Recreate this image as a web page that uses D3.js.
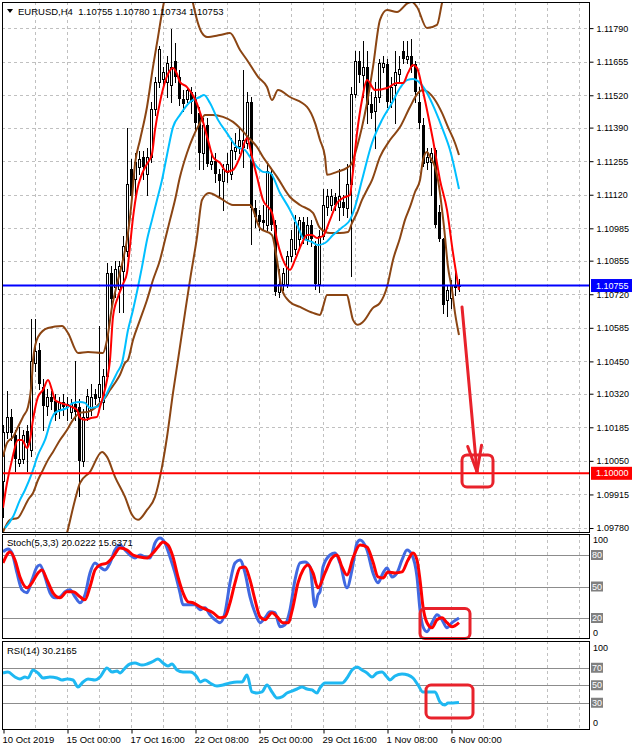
<!DOCTYPE html>
<html><head><meta charset="utf-8">
<script src="https://cdn.jsdelivr.net/npm/d3@7/dist/d3.min.js"></script>
<style>
html,body{margin:0;padding:0;background:#fff;}
svg{display:block;font-family:"Liberation Sans",Arial,sans-serif;}
</style></head><body>
<svg id="chart" width="635" height="750"></svg>
<script>
// ---------------- DATA ----------------
const symbol = "EURUSD,H4";
const open = [1.09969,1.10166,1.10228,1.10154,1.10043,1.10059,1.10170,1.10092,1.10442,1.10495,
1.10347,1.10269,1.10306,1.10290,1.10257,1.10285,1.10265,1.10248,1.10277,1.10265,
1.10051,1.10228,1.10257,1.10318,1.10306,1.10285,1.10392,1.10804,1.10750,1.10742,
1.10812,1.10895,1.11224,1.11183,1.11232,1.11273,1.11203,1.11273,1.11463,1.11574,
1.11586,1.11574,1.11561,1.11656,1.11594,1.11504,1.11504,1.11533,1.11504,1.11450,
1.11286,1.11401,1.11244,1.11257,1.11203,1.11175,1.11212,1.11203,1.11294,1.11318,
1.11314,1.11327,1.11491,1.11068,1.11039,1.11018,1.10998,1.11203,1.10998,1.10730,
1.10763,1.10763,1.10874,1.10903,1.10944,1.11010,1.10944,1.10998,1.10915,1.10763,
1.10956,1.11072,1.11080,1.11109,1.11072,1.11092,1.11068,1.11162,1.11524,1.11656,
1.11602,1.11635,1.11483,1.11458,1.11512,1.11635,1.11644,1.11491,1.11561,1.11607,
1.11697,1.11664,1.11677,1.11644,1.11491,1.11401,1.11253,1.11253,1.11298,1.11051,
1.10944,1.10697,1.10705,1.10757,1.10755];
const high = [1.10195,1.10331,1.10257,1.10174,1.10187,1.10174,1.10195,1.10619,1.10619,1.10524,
1.10380,1.10339,1.10331,1.10318,1.10306,1.10318,1.10306,1.10298,1.10450,1.10298,
1.10257,1.10339,1.10360,1.10339,1.10594,1.10421,1.10845,1.10833,1.10853,1.10853,
1.10956,1.11388,1.11265,1.11286,1.11294,1.11294,1.11306,1.11491,1.11594,1.11718,
1.11635,1.11677,1.11788,1.11730,1.11623,1.11541,1.11553,1.11553,1.11533,1.11471,
1.11430,1.11430,1.11286,1.11286,1.11224,1.11244,1.11286,1.11347,1.11368,1.11388,
1.11623,1.11533,1.11512,1.11100,1.11059,1.11080,1.11244,1.11224,1.11018,1.10820,
1.10825,1.10895,1.10977,1.11039,1.11030,1.11030,1.11030,1.11018,1.10936,1.10977,
1.11142,1.11142,1.11142,1.11129,1.11224,1.11121,1.11244,1.11553,1.11697,1.11697,
1.11738,1.11697,1.11533,1.11574,1.11664,1.11677,1.11664,1.11594,1.11697,1.11677,
1.11738,1.11738,1.11747,1.11656,1.11553,1.11430,1.11306,1.11306,1.11306,1.11080,
1.10946,1.10757,1.10777,1.10826,1.10780];
const low = [1.09824,1.10141,1.10133,1.10010,1.10030,1.10043,1.10010,1.10071,1.10413,1.10339,
1.10174,1.10236,1.10257,1.10215,1.10224,1.10236,1.10215,1.10224,1.10215,1.09907,
1.10030,1.10215,1.10236,1.10277,1.10290,1.10257,1.10380,1.10668,1.10709,1.10648,
1.10648,1.10874,1.11080,1.11113,1.11203,1.11183,1.11121,1.11253,1.11442,1.11553,
1.11565,1.11512,1.11491,1.11574,1.11479,1.11458,1.11491,1.11450,1.11376,1.11224,
1.11224,1.11236,1.11224,1.11170,1.11109,1.11059,1.11170,1.11183,1.11265,1.11286,
1.11232,1.11306,1.10923,1.10989,1.10977,1.10977,1.10977,1.10977,1.10718,1.10709,
1.10738,1.10750,1.10853,1.10882,1.10915,1.10927,1.10923,1.10915,1.10742,1.10730,
1.10944,1.11039,1.11059,1.11059,1.11018,1.11039,1.11030,1.10792,1.11512,1.11574,
1.11512,1.11409,1.11430,1.11306,1.11491,1.11615,1.11471,1.11471,1.11409,1.11574,
1.11648,1.11648,1.11615,1.11491,1.11388,1.11236,1.11224,1.11121,1.10989,1.10936,
1.10645,1.10633,1.10665,1.10717,1.10734];
const close = [1.10166,1.10228,1.10162,1.10059,1.10059,1.10154,1.10121,1.10450,1.10491,1.10360,
1.10269,1.10306,1.10285,1.10236,1.10285,1.10265,1.10277,1.10277,1.10248,1.10051,
1.10228,1.10310,1.10306,1.10298,1.10360,1.10392,1.10804,1.10701,1.10820,1.10833,
1.10915,1.11162,1.11113,1.11253,1.11265,1.11232,1.11273,1.11463,1.11574,1.11705,
1.11615,1.11648,1.11635,1.11594,1.11504,1.11483,1.11541,1.11491,1.11409,1.11286,
1.11401,1.11244,1.11257,1.11203,1.11175,1.11224,1.11244,1.11298,1.11314,1.11339,
1.11339,1.11491,1.11068,1.11030,1.11010,1.11006,1.11216,1.10998,1.10730,1.10763,
1.10804,1.10874,1.10944,1.11010,1.11018,1.10944,1.10998,1.10944,1.10763,1.10956,
1.11080,1.11113,1.11113,1.11080,1.11113,1.11068,1.11162,1.11524,1.11656,1.11602,
1.11635,1.11479,1.11450,1.11512,1.11648,1.11648,1.11491,1.11553,1.11615,1.11627,
1.11664,1.11677,1.11635,1.11533,1.11409,1.11244,1.11273,1.11286,1.10998,1.10944,
1.10677,1.10737,1.10757,1.10745,1.10753];

// Bollinger bands (bar index, price)
const bbMidIdx = [0,1.75,3.75,5,6.25,7.5,8.75,10,11.25,12.5,14.25,16,17.5,19.25,21.25,23,24.25,25.5,26.75,28,29.25,30.5,31.25,32.5,34.25,36,37.5,39.25,40.5,41.75,43,44.25,46,47.5,49.25,50.5,52.5,55,57.5,59.25,61.25,63.5,65,66.75,68.5,71.75,74.25,77.5,79.25,81.75,84.25,86.25,87.25,88.5,89.75,91,92.25,94.25,96.75,99.25,101.75,103.75,105,106.25,108,109.75,111.25,113,114];
const bbMid = [1.09764,1.09813,1.09821,1.09853,1.09893,1.09921,1.09973,1.10014,1.10054,1.10086,1.10134,1.10174,1.10215,1.10243,1.10247,1.10263,1.10283,1.10303,1.10335,1.10363,1.10396,1.10444,1.10456,1.10536,1.10617,1.10697,1.10777,1.10858,1.10938,1.11019,1.11099,1.11192,1.11288,1.11352,1.11409,1.11441,1.11441,1.11433,1.11413,1.11388,1.11352,1.11312,1.11272,1.11232,1.11192,1.11111,1.11079,1.11047,1.10986,1.10966,1.10966,1.10970,1.11006,1.11047,1.11099,1.11139,1.11179,1.11272,1.11340,1.11392,1.11473,1.11529,1.11541,1.11533,1.11501,1.11449,1.11392,1.11328,1.11280];
const bbUpIdx = [0,1,2.5,3.75,5,6.25,7.25,7.5,8.75,11.25,14.75,16.25,18.75,21.25,25,26,27.25,28.75,30,31.25,32.25,33,34.25,36,37.5,38.75,40,41.25,43,44.75,46.25,47.5,49.75,51,54.25,56.75,59.25,61,63.75,66,67.25,68.75,71.75,76,78,79.25,80.5,81,83.5,86,87.25,88.5,89.75,91,92.5,94.25,96,98.5,101.25,102.25,103.5,106,108.5,109.75,111.75,114];
const bbUp = [1.10066,1.10122,1.10146,1.10186,1.10227,1.10267,1.10388,1.10456,1.10548,1.10584,1.10592,1.10564,1.10484,1.10488,1.10484,1.10536,1.10669,1.10777,1.10858,1.10966,1.11107,1.11244,1.11340,1.11473,1.11634,1.11754,1.11875,1.11963,1.12044,1.12064,1.12004,1.11891,1.11770,1.11754,1.11762,1.11770,1.11702,1.11662,1.11594,1.11553,1.11501,1.11541,1.11513,1.11473,1.11409,1.11340,1.11272,1.11200,1.11212,1.11228,1.11248,1.11312,1.11392,1.11489,1.11634,1.11823,1.11863,1.11855,1.11891,1.11895,1.11875,1.11790,1.11803,1.11891,1.12024,1.12084];
const bbLowIdx = [0,4.25,7.5,11.25,14.25,16,18,19.25,21.75,24.75,26,28,30.5,32.25,33.75,36,38,39.75,41,42.5,43.75,45.5,46.75,48.5,49.75,51.5,54.25,57.5,61.75,64.25,67.25,68.5,69.75,71.75,74.25,77.5,79.25,80,81,86,86.75,87.5,88.75,90,92.5,94.25,96,97.5,99.25,100.5,101.75,103,104.25,105,106,106.75,108,108.75,110.25,111.25,112.25,113,114];
const bbLow = [1.09463,1.09431,1.09387,1.09523,1.09672,1.09760,1.09893,1.09961,1.10006,1.10086,1.10066,1.09986,1.09905,1.09833,1.09813,1.09853,1.09905,1.10026,1.10146,1.10323,1.10456,1.10645,1.10777,1.10950,1.11099,1.11127,1.11107,1.11079,1.11079,1.10986,1.10958,1.10858,1.10737,1.10689,1.10669,1.10645,1.10637,1.10669,1.10717,1.10717,1.10669,1.10617,1.10597,1.10609,1.10665,1.10685,1.10749,1.10858,1.10946,1.11019,1.11071,1.11131,1.11179,1.11260,1.11292,1.11272,1.11232,1.11179,1.10991,1.10830,1.10737,1.10645,1.10556];

// Fast MA (red) and slow MA (cyan)
const maFastIdx = [0,1,2.25,3.75,4.75,6,6.75,7.5,8.75,10,11.25,12.25,13,13.75,16,17.25,18.5,19.25,20.5,22.25,23.5,24.25,25,26,26.75,27.5,28.75,30,31,31.75,32.5,33.5,34.75,36,37.25,38,39.25,40,41.25,42.5,43.5,44.25,46,48,50,51.25,52.5,54.25,56,57.5,59.25,61,62.25,63.5,65,67.25,68.5,70,71.75,73,74.75,76,77.25,78.5,80,81.75,83.5,85,86.75,87.25,88.5,89.75,91,93,96,98.5,100,101.25,102.5,103.5,104.75,106,107.5,109.25,111,112.5,114];
const maFast = [1.09861,1.09961,1.10054,1.10134,1.10134,1.10102,1.10134,1.10215,1.10307,1.10335,1.10375,1.10335,1.10295,1.10287,1.10275,1.10267,1.10255,1.10223,1.10215,1.10223,1.10227,1.10267,1.10307,1.10375,1.10456,1.10629,1.10709,1.10761,1.10806,1.10914,1.11027,1.11135,1.11204,1.11244,1.11284,1.11380,1.11493,1.11545,1.11606,1.11630,1.11606,1.11573,1.11553,1.11505,1.11413,1.11340,1.11272,1.11248,1.11212,1.11220,1.11272,1.11348,1.11272,1.11192,1.11099,1.11047,1.10938,1.10858,1.10818,1.10858,1.10926,1.10958,1.10958,1.10946,1.10954,1.11019,1.11087,1.11107,1.11119,1.11179,1.11368,1.11501,1.11581,1.11541,1.11549,1.11569,1.11569,1.11610,1.11642,1.11630,1.11553,1.11461,1.11340,1.11179,1.11059,1.10886,1.10737];
const maSlowIdx = [0.5,2.5,4.25,5.5,7.25,8.75,10.5,12.25,13,16,17.5,19.25,20.5,21.75,23.5,24.75,26,27.25,28.5,29.75,31.25,32.5,33.75,34.75,36,37.25,38.5,39.75,41,42.5,44.25,46.75,49.25,50.25,51.75,53.75,56,58.5,60.5,61.75,63.5,65,66.75,69.25,71.75,73.75,75,77.25,78.75,80.5,82.5,85,86.75,88,89.75,92.25,94.75,97.25,99.25,101,102.5,104.25,106,108,110,111.75,114];
const maSlow = [1.09780,1.09825,1.09893,1.09933,1.10002,1.10074,1.10134,1.10223,1.10243,1.10263,1.10283,1.10287,1.10283,1.10263,1.10267,1.10287,1.10323,1.10363,1.10404,1.10444,1.10576,1.10657,1.10749,1.10830,1.10938,1.11019,1.11099,1.11179,1.11280,1.11392,1.11441,1.11493,1.11513,1.11521,1.11489,1.11421,1.11368,1.11312,1.11300,1.11272,1.11232,1.11212,1.11208,1.11127,1.11059,1.10991,1.10946,1.10930,1.10918,1.10926,1.10958,1.10991,1.11019,1.11071,1.11179,1.11328,1.11421,1.11489,1.11549,1.11581,1.11585,1.11569,1.11529,1.11461,1.11380,1.11300,1.11143];

// Stochastic (5,3,3)
const stochKIdx = [0,1.25,2.25,3.5,4.75,6,7.25,8.5,9.25,10.5,11.75,13,14.25,15.5,16.75,18,19.25,20.5,21.75,23,24.25,25.5,26.75,28,29.25,30.5,31.75,33,34.25,35.5,36.75,38,39.25,40.5,41.75,43,44.25,45,46.75,48,49.25,50.5,51.75,53,54.25,55.5,56.75,58,59.25,60.5,61.75,63,64.25,65.5,66.75,68,69.25,70.5,71.75,73,74.25,75.5,76.75,78,78.75,79.25,80,81.75,83,84.25,86,87.25,88.5,89.25,91,92.5,93.75,95,96,97.25,98.5,99.75,101,102.25,103.5,104.25,105,106,107.25,108.5,109.75,111,112.25,114];
const stochK = [82.9,85.7,81.9,62.9,46.8,44.0,56.3,68.6,70.5,59.1,44.0,39.2,40.2,44.9,46.8,40.2,34.5,42.1,62.9,72.4,68.6,65.8,72.4,84.8,89.5,84.8,80.0,77.2,80.0,78.1,77.2,91.4,96.2,91.4,78.1,62.9,44.0,32.6,32.6,32.6,27.8,29.7,23.1,18.3,15.5,25.0,53.5,72.4,75.3,62.9,40.2,25.0,15.5,20.2,25.9,25.0,11.7,13.6,27.8,56.3,72.4,73.4,68.6,30.7,42.1,44.9,68.6,80.0,81.9,72.4,48.7,65.8,91.4,94.3,84.8,62.9,53.5,62.9,67.7,59.1,62.9,75.3,84.8,80.0,59.1,27.8,11.7,6.9,15.5,23.1,18.3,10.7,15.5,20.0222];
const stochDIdx = [0,1.75,3,4.25,6,7.25,8.75,9.75,11,12.5,14.25,16,17.5,19.25,20.5,21.75,23,24.25,26,27.5,29.25,31,32.5,34.25,36,37.5,38.75,40,41.25,42.5,43.75,45,46.25,47.5,49.25,51,52.5,54.25,55.5,56.75,58,59.25,60.5,61.75,63,64.25,65.5,67.25,68.5,70,71.25,72.5,73.75,75,76.25,77.5,78.75,80.5,82.25,83.5,84.75,86,87.5,89.25,91,92.5,93.75,95,96.25,98,99.75,101.25,102.5,103.5,104.25,105,106,107.25,108.5,109.75,111,112.25,114];
const stochD = [72.4,82.9,75.3,59.1,48.7,53.5,62.9,65.8,56.3,44.0,39.2,44.9,44.9,40.2,37.3,49.7,65.8,70.5,72.4,78.1,86.7,84.8,80.0,78.1,77.2,81.9,87.6,92.4,89.5,78.1,59.1,44.0,35.4,34.5,30.7,27.8,25.0,20.2,21.2,34.5,53.5,67.7,68.6,56.3,37.3,21.2,18.3,25.0,21.2,15.5,15.5,30.7,53.5,65.8,70.5,62.9,48.7,62.9,77.2,80.0,68.6,61.0,77.2,89.5,87.6,73.4,59.1,58.2,63.9,62.9,63.9,75.3,81.9,75.3,56.3,30.7,15.5,10.7,18.3,20.2,15.5,11.7,15.6371];
const stochLevels = [80, 50, 20];

// RSI(14)
const rsiIdx = [0,1.25,3,4.25,5.5,6.25,7.5,8.75,10,11.75,13.5,14.75,16,17.5,18.75,20,21.25,23,24.25,26,27.25,28.5,29.25,30.5,31.75,33,34.75,36,37.25,38.75,40,41.25,42.25,43.5,45,46.75,48.5,49.25,50.5,51.75,53.5,55,56.75,58.5,59.75,61,62.25,63.5,64.75,66,67.25,68.5,69.75,71,72.25,73.5,74.75,76,77.25,78.5,79.25,80.5,81.75,83.5,84.75,86,87.25,88.5,89.75,91,92.25,93.5,94.75,96,96.75,98,99.75,101.25,102.5,103.75,105,106.75,108,109.25,110.5,111.25,112.5,114];
const rsi = [64.0,65.1,59.4,57.1,59.4,58.3,67.4,64.0,58.3,59.4,58.3,56.0,57.1,56.0,48.0,53.7,57.1,56.0,59.4,69.7,65.1,66.3,64.0,69.7,74.3,75.4,73.1,74.3,76.6,80.0,75.4,72.0,74.3,67.4,65.1,65.1,59.4,53.7,56.0,52.6,49.1,50.3,52.6,53.7,53.7,61.7,42.3,41.1,42.3,50.3,42.3,35.4,36.6,41.1,43.4,45.7,48.0,45.7,44.6,41.1,46.9,52.6,52.6,52.6,52.6,58.3,67.4,70.9,67.4,64.0,59.4,64.0,65.1,59.4,56.0,60.6,62.9,61.7,58.3,50.3,42.3,42.3,42.3,30.9,27.4,29.7,29.7,30.2165];
const rsiLevels = [70, 50, 30];

// Axes
const priceTicks = [1.11790,1.11655,1.11520,1.11390,1.11255,1.11120,1.10985,1.10855,1.10720,1.10585,1.10450,1.10320,1.10185,1.10050,1.09915,1.09780];
const timeLabels = ["10 Oct 2019","15 Oct 00:00","17 Oct 16:00","22 Oct 08:00","25 Oct 00:00","29 Oct 16:00","1 Nov 08:00","6 Nov 00:00"];
const timeLabelIdx = [0,16,32,48,64,80,96,112];

// Horizontal lines and drawn annotations (data coordinates)
const blueLevel = 1.10755;
const redLevel = 1.10000;
const arrowFrom = [114.75, 1.10669];
const arrowTo = [118.5, 1.10006];
const targetBox = [114.75, 122.5, 1.10074, 1.09945];
const stochBox = [104.25, 116.75, 29, 0.5];
const rsiBox = [105.75, 117.5, 50.3, 12.6];

// ---------------- CHART ----------------
const svg = d3.select("#chart");
const L = 2, R = 589;
const panels = {main:[2,532], stoch:[534,638], rsi:[641,729]};
const x = d3.scaleLinear().domain([0,146.5]).range([3,589]);
const yMain = d3.scaleLinear().domain([1.09764,1.11895]).range([532,2]);
const yStoch = d3.scaleLinear().domain([0,100]).range([639,534]);
const yRsi = d3.scaleLinear().domain([0,100]).range([729,641.5]);
const px = v => Math.round(v) + 0.5;

svg.append("rect").attr("width",635).attr("height",750).attr("fill","#fff");
const defs = svg.append("defs");
Object.entries(panels).forEach(([k,[t,b]]) => {
  defs.append("clipPath").attr("id","clip-"+k).append("rect")
    .attr("x",L).attr("y",t).attr("width",R-L).attr("height",b-t);
});

// vertical grid in all panels
const gridIdx = d3.range(8,147,8);
Object.entries(panels).forEach(([k,[t,b]]) => {
  svg.append("g").selectAll("line").data(gridIdx).join("line")
    .attr("x1",d=>px(x(d))).attr("x2",d=>px(x(d)))
    .attr("y1",t).attr("y2",b)
    .attr("stroke","#c0c0c0").attr("stroke-dasharray","3,3");
});
// horizontal price grid
svg.append("g").selectAll("line").data(priceTicks).join("line")
  .attr("x1",L).attr("x2",R)
  .attr("y1",d=>px(yMain(d))).attr("y2",d=>px(yMain(d)))
  .attr("stroke","#c0c0c0").attr("stroke-dasharray","3,3");

// levels
svg.append("g").selectAll("line").data(stochLevels).join("line")
  .attr("x1",L).attr("x2",R).attr("y1",d=>px(yStoch(d))).attr("y2",d=>px(yStoch(d)))
  .attr("stroke","#8c8c8c");
svg.append("g").selectAll("line").data(rsiLevels).join("line")
  .attr("x1",L).attr("x2",R).attr("y1",d=>px(yRsi(d))).attr("y2",d=>px(yRsi(d)))
  .attr("stroke","#8c8c8c");

// candles
const bars = open.map((o,i)=>({i,o,h:high[i],l:low[i],c:close[i]}));
const gMain = svg.append("g").attr("clip-path","url(#clip-main)");
const gC = gMain.append("g").attr("shape-rendering","crispEdges");
gC.selectAll("line").data(bars).join("line")
  .attr("x1",d=>px(x(d.i))).attr("x2",d=>px(x(d.i)))
  .attr("y1",d=>Math.round(yMain(d.h))).attr("y2",d=>Math.round(yMain(d.l))+1)
  .attr("stroke","#000");
gC.selectAll("rect").data(bars).join("rect")
  .attr("x",d=> d.c>=d.o ? Math.round(x(d.i))-0.5 : Math.round(x(d.i))-1)
  .attr("width",d=> d.c>=d.o ? 2 : 3)
  .attr("y",d=>{const t=Math.round(yMain(Math.max(d.o,d.c))); return d.c>=d.o? t+0.5 : t;})
  .attr("height",d=>Math.max(d.c>=d.o?1:1, Math.round(yMain(Math.min(d.o,d.c)))-Math.round(yMain(Math.max(d.o,d.c)))))
  .attr("fill",d=> d.c>=d.o ? "#fff" : "#000")
  .attr("stroke",d=> d.c>=d.o ? "#000" : "none");

// indicator lines
function drawLine(g, idx, vals, yS, color, w){
  const pts = idx.map((d,k)=>[d, vals[k]]);
  g.append("path").datum(pts)
    .attr("d", d3.line().x(d=>x(d[0])).y(d=>yS(d[1])).curve(d3.curveMonotoneX))
    .attr("fill","none").attr("stroke",color).attr("stroke-width",w)
    .attr("stroke-linejoin","round");
}
const brown = "#8b4513";
drawLine(gMain, bbUpIdx, bbUp, yMain, brown, 2);
drawLine(gMain, bbLowIdx, bbLow, yMain, brown, 2);
drawLine(gMain, bbMidIdx, bbMid, yMain, brown, 2);
drawLine(gMain, maSlowIdx, maSlow, yMain, "#00bfff", 2);
drawLine(gMain, maFastIdx, maFast, yMain, "#ff0000", 2);

const gSt = svg.append("g").attr("clip-path","url(#clip-stoch)");
drawLine(gSt, stochKIdx, stochK, yStoch, "#4169e1", 3);
drawLine(gSt, stochDIdx, stochD, yStoch, "#ff0000", 3);
const gR = svg.append("g").attr("clip-path","url(#clip-rsi)");
drawLine(gR, rsiIdx, rsi, yRsi, "#1eb8f2", 3);

// horizontal levels
svg.append("line").attr("x1",L).attr("x2",R).attr("y1",yMain(blueLevel)).attr("y2",yMain(blueLevel))
  .attr("stroke","#0000ff").attr("stroke-width",2);
svg.append("line").attr("x1",L).attr("x2",R).attr("y1",yMain(redLevel)).attr("y2",yMain(redLevel))
  .attr("stroke","#ff0000").attr("stroke-width",2);

// annotations
const ann = "#e8222b";
const a0 = [x(arrowFrom[0]), yMain(arrowFrom[1])], a1 = [x(arrowTo[0]), yMain(arrowTo[1])];
svg.append("line").attr("x1",a0[0]).attr("y1",a0[1]).attr("x2",a1[0]).attr("y2",a1[1])
  .attr("stroke",ann).attr("stroke-width",3).attr("stroke-linecap","round");
{
  const ang = Math.atan2(a0[1]-a1[1], a0[0]-a1[0]);
  [-0.26,0.26].forEach(da=>{
    svg.append("line").attr("x1",a1[0]).attr("y1",a1[1])
      .attr("x2",a1[0]+27*Math.cos(ang+da)).attr("y2",a1[1]+27*Math.sin(ang+da))
      .attr("stroke",ann).attr("stroke-width",3).attr("stroke-linecap","round");
  });
}
function box(b, yS){
  svg.append("rect").attr("x",x(b[0])).attr("y",yS(b[2]))
    .attr("width",x(b[1])-x(b[0])).attr("height",yS(b[3])-yS(b[2]))
    .attr("rx",5).attr("fill","none").attr("stroke",ann).attr("stroke-width",3);
}
box(targetBox, yMain); box(stochBox, yStoch); box(rsiBox, yRsi);

// frames
Object.values(panels).forEach(([t,b])=>{
  svg.append("rect").attr("x",L+0.5).attr("y",t+0.5).attr("width",R-L).attr("height",b-t)
    .attr("fill","none").attr("stroke","#000");
});

// price axis
const axR = svg.append("g").attr("transform",`translate(${R+0.5},0)`)
  .call(d3.axisRight(yMain).tickValues(priceTicks).tickFormat(d3.format(".5f")).tickSize(4).tickPadding(3));
axR.select(".domain").remove();
axR.selectAll("line").attr("stroke","#000");
axR.selectAll("text").attr("font-size",9).attr("font-family","Liberation Sans, Arial, sans-serif").attr("fill","#000");

// price labels for lines
function priceTag(v, fill){
  const yy = yMain(v);
  svg.append("rect").attr("x",R+2).attr("y",yy-6.5).attr("width",41).attr("height",13).attr("fill",fill);
  svg.append("text").attr("x",R+7).attr("y",yy).attr("dy","0.35em").attr("font-size",9)
    .attr("fill","#fff").text(d3.format(".5f")(v));
}
priceTag(blueLevel,"#0000ff");
priceTag(redLevel,"#ff0000");

// oscillator scales
function oscAxis(yS, levels){
  [100,0].forEach(v=>{
    svg.append("text").attr("x",R+4).attr("y",v===100? yS(v)+6 : yS(v)-6).attr("dy","0.35em")
      .attr("font-size",9).attr("fill","#000").text(v);
  });
  levels.forEach(v=>{
    svg.append("rect").attr("x",R+2).attr("y",yS(v)-5).attr("width",12).attr("height",10).attr("fill","#808080");
    svg.append("text").attr("x",R+3).attr("y",yS(v)).attr("dy","0.35em").attr("font-size",9)
      .attr("fill","#fff").text(v);
  });
}
oscAxis(yStoch, stochLevels);
oscAxis(yRsi, rsiLevels);

// time axis
const axB = svg.append("g").attr("transform",`translate(0,${panels.rsi[1]+0.5})`)
  .call(d3.axisBottom(x).tickValues(timeLabelIdx).tickFormat((d,k)=>timeLabels[k]).tickSize(4).tickPadding(3));
axB.select(".domain").remove();
axB.selectAll("line").attr("stroke","#000").attr("transform","translate(0.5,0)");
axB.selectAll("text").attr("text-anchor","start").attr("x",-1).attr("font-size",9.5)
  .attr("font-family","Liberation Sans, Arial, sans-serif").attr("fill","#000");

// titles
const n = close.length-1;
svg.append("path").attr("d","M7,9 L13,9 L10,13 Z").attr("fill","#000");
svg.append("text").attr("x",18).attr("y",15).attr("font-size",9.5).style("white-space","pre")
  .text(`${symbol}  ${open[n].toFixed(5)} ${high[n].toFixed(5)} ${low[n].toFixed(5)} ${close[n].toFixed(5)}`);
svg.append("text").attr("x",7).attr("y",546).attr("font-size",9.5)
  .text(`Stoch(5,3,3) ${stochK[stochK.length-1].toFixed(4)} ${stochD[stochD.length-1].toFixed(4)}`);
svg.append("text").attr("x",7).attr("y",654).attr("font-size",9.5)
  .text(`RSI(14) ${rsi[rsi.length-1].toFixed(4)}`);
</script>
</body></html>
